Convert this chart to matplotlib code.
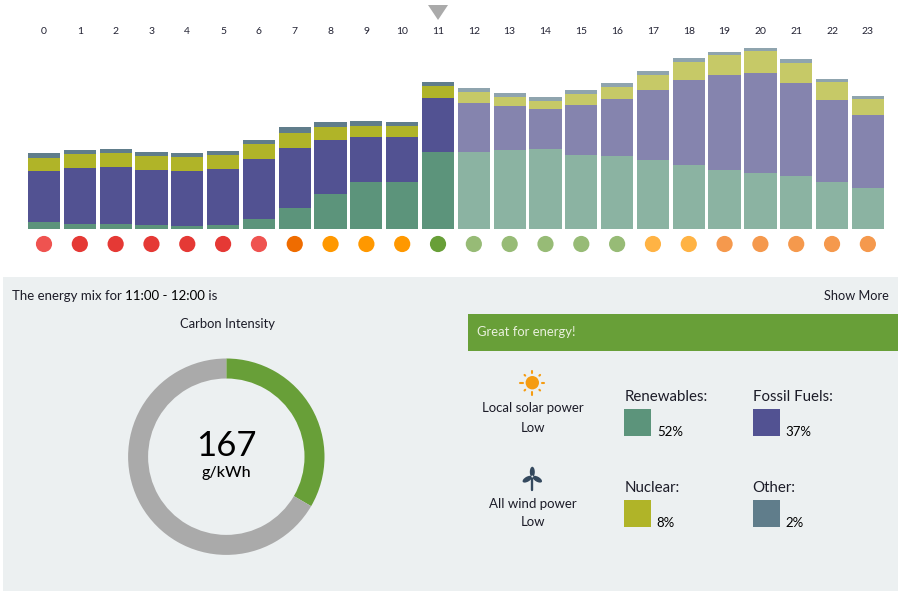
import numpy as np
import matplotlib
matplotlib.use("Agg")
import matplotlib.pyplot as plt
from matplotlib.patches import Rectangle, Polygon, Ellipse, Circle

plt.rcParams['font.family'] = ['Lato', 'DejaVu Sans']

hours = list(range(24))
renewables = [20,16,14,11,9,11,30,62,104,140,141,230,232,237,241,223,219,207,192,176,168,159,141,123]
fossil = [153,168,171,167,166,168,179,180,164,137,135,163,147,132,119,149,171,210,256,285,300,279,246,219]
nuclear = [41,42,42,42,41,43,45,46,37,32,32,36,32,28,25,33,36,45,54,61,66,60,54,47]
other = [14,12,14,12,13,13,14,17,15,15,13,11,11,11,11,12,12,11,10,10,10,11,10,10]
selected = 11
dot_colors = ['#ef5350','#e53935','#e53935','#e53935','#e53935','#e53935','#ef5350','#ef6c00',
              '#ff9800','#ff9800','#ff9800','#689f38','#97bb76','#97bb76','#97bb76','#97bb76',
              '#97bb76','#ffb344','#ffb344','#f5994d','#f5994d','#f5994d','#f5994d','#f5994d']
intensity = 167
intensity_max = 500
mix_labels = ['Renewables:', 'Fossil Fuels:', 'Nuclear:', 'Other:']
mix_pct = ['52%', '37%', '8%', '2%']
series_colors = ['#5c947b', '#525292', '#b0b428', '#607d8b']
pale_colors = ['#8bb3a2', '#8584ae', '#c6c967', '#8fa4ae']

W, H = 907, 598
fig = plt.figure(figsize=(W/100, H/100), dpi=100, facecolor='white')

# page layer, in pixels
bg = fig.add_axes([0, 0, 1, 1])
bg.set_xlim(0, W); bg.set_ylim(H, 0); bg.axis('off')
bg.add_patch(Rectangle((3, 277), 895, 314, fc='#ecf0f1', ec='none'))
bg.add_patch(Rectangle((468, 314), 430, 37, fc='#689f38', ec='none'))

# stacked bars
x0, step = 44.0, 35.82
base_px = 229.0
ax = fig.add_axes([0, 1 - base_px/H, 1, base_px/H])
ax.patch.set_alpha(0)
ax.set_xlim(-x0/step, (W - x0)/step)
ax.set_ylim(0, base_px*3)
ax.axis('off')
bottom = np.zeros(24)
for vals, col, pale in zip([renewables, fossil, nuclear, other], series_colors, pale_colors):
    vals = np.array(vals, float)
    cols = [col if h <= selected else pale for h in hours]
    ax.bar(hours, vals, width=0.9, bottom=bottom, color=cols, edgecolor='none')
    bottom += vals
for h in hours:
    ax.text(h, base_px*3 - 31.5*3, str(h), ha='center', va='center', fontsize=7.5, color='#222233')

# selected marker and intensity dots
fg = fig.add_axes([0, 0, 1, 1])
fg.patch.set_alpha(0)
fg.set_xlim(0, W); fg.set_ylim(H, 0); fg.axis('off')
xs = x0 + step*np.array(hours)
fg.scatter(xs, [244]*24, s=(16.2*0.72)**2, c=dot_colors, linewidths=0)
sx = x0 + step*selected
fg.add_patch(Polygon([(sx-10, 5), (sx+10, 5), (sx, 20)], fc='#aaaaaa', ec='none'))

TXT = '#1c1c28'
fg.text(12, 295.5, 'The energy mix for ', fontsize=9.5, color=TXT, va='center')
fg.text(125, 295.5, '11:00 - 12:00', fontsize=9.5, color='black', va='center')
fg.text(205, 295.5, ' is', fontsize=9.5, color=TXT, va='center')
fg.text(889, 295.5, 'Show More', fontsize=9.2, color=TXT, va='center', ha='right')
fg.text(227, 323.5, 'Carbon Intensity', fontsize=9.4, color=TXT, va='center', ha='center')
fg.text(477, 332.5, 'Great for energy!', fontsize=9.4, color='#e8f0dc', va='center')

# donut
dc_x, dc_y, dr = 226.3, 456.7, 98.2
don = fig.add_axes([(dc_x-dr)/W, 1-(dc_y+dr)/H, 2*dr/W, 2*dr/H])
don.pie([intensity, intensity_max-intensity], colors=['#689f38', '#aaaaaa'], startangle=90,
        counterclock=False, radius=1, wedgeprops=dict(width=20/dr, linewidth=0))
don.set_xlim(-1, 1); don.set_ylim(-1, 1)
fg.text(226.5, 445.5, str(intensity), fontsize=25, color='black', ha='center', va='center')
fg.text(226.5, 473.5, 'g/kWh', fontsize=11.5, color='black', ha='center', va='center', fontweight='medium')

# solar and wind
cx, cy = 532.3, 382.7
fg.add_patch(Circle((cx, cy), 6.7, fc='#f59c12', ec='none', zorder=3))
for a in np.arange(0, 360, 45):
    r = np.radians(a)
    r1, r2 = (9.5, 12) if a % 90 == 0 else (10, 11)
    fg.plot([cx+r1*np.cos(r), cx+r2*np.cos(r)], [cy+r1*np.sin(r), cy+r2*np.sin(r)],
            color='#f59c12', lw=1.5, solid_capstyle='round')
fg.text(533, 408.5, 'Local solar power', fontsize=9.5, color=TXT, ha='center', va='center')
fg.text(533, 427.5, 'Low', fontsize=9.5, color=TXT, ha='center', va='center')
wx, wy = 532.3, 476.5
WIND = '#34495e'
fg.plot([wx, wx], [wy, wy+13.5], color=WIND, lw=1.7, solid_capstyle='round')
fg.add_patch(Ellipse((wx, wy-4.5), 5, 10.5, fc=WIND, ec='none'))
fg.add_patch(Ellipse((wx-5, wy+2.7), 5, 10.5, angle=60, fc=WIND, ec='none'))
fg.add_patch(Ellipse((wx+5, wy+2.7), 5, 10.5, angle=-60, fc=WIND, ec='none'))
fg.add_patch(Circle((wx, wy), 1.0, fc='#ecf0f1', ec='none', zorder=3))
fg.text(533, 503.5, 'All wind power', fontsize=9.5, color=TXT, ha='center', va='center')
fg.text(533, 522.5, 'Low', fontsize=9.5, color=TXT, ha='center', va='center')

# mix legend
pos = [(624, 396), (753, 396), (624, 487), (753, 487)]
for (px, py), lab, pct, col in zip(pos, mix_labels, mix_pct, series_colors):
    fg.text(px + (0.3 if lab != 'Other:' else -0.8), py + 1, lab, fontsize=10.8, color=TXT, va='center')
    fg.add_patch(Rectangle((px, py+13), 27, 27, fc=col, ec='none'))
    fg.text(px+32.8, py+36, pct, fontsize=9.5, color='black', va='center')

fig.savefig('out.png', dpi=100)
